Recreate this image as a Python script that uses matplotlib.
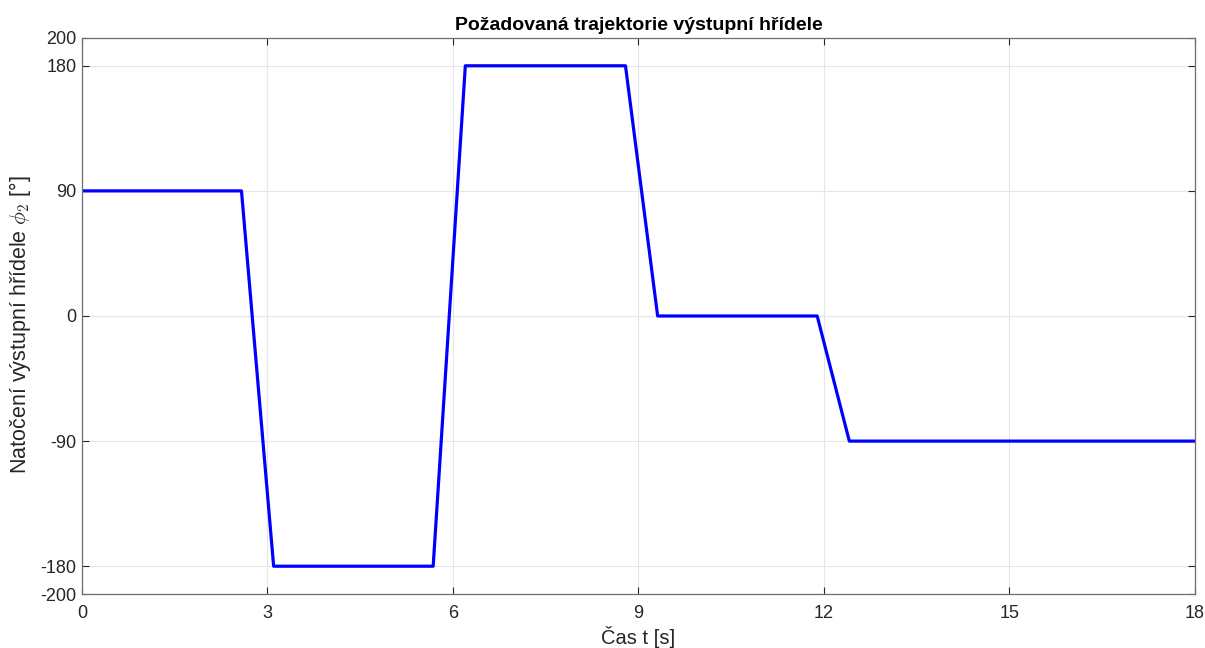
import numpy as np
import matplotlib
matplotlib.use("Agg")
import matplotlib.pyplot as plt

# Požadovaná trajektorie - body (čas [s], úhel [°])
t_points = [0, 2.58, 3.10, 5.68, 6.20, 8.79, 9.31, 11.89, 12.41, 18]
phi_points = [90, 90, -180, -180, 180, 180, 0, 0, -90, -90]

x_ticks = [0, 3, 6, 9, 12, 15, 18]
y_ticks = [-200, -180, -90, 0, 90, 180, 200]

plt.rcParams['font.family'] = ['Liberation Sans', 'DejaVu Sans']
plt.rcParams['mathtext.fontset'] = 'cm'
plt.rcParams['axes.unicode_minus'] = False

fig = plt.figure(figsize=(12.05, 6.48), dpi=100)
ax = fig.add_axes([0.068, 0.0833, 0.9237, 0.8581])

ax.plot(t_points, phi_points, color='#0000ff', linewidth=2.3)

ax.set_xlim(0, 18)
ax.set_ylim(-200, 200)
ax.set_xticks(x_ticks)
ax.set_yticks(y_ticks)
ax.grid(True, color='#e6e6e6', linewidth=0.8)
ax.set_axisbelow(True)

edge = '#262626'
for s in ax.spines.values():
    s.set_color('#6e6e6e')
    s.set_linewidth(0.9)
ax.tick_params(direction='in', top=True, right=True, length=5, width=0.8,
               colors=edge, labelsize=13, pad=4)
ax.tick_params(axis='x', pad=8)
for lbl in ax.get_xticklabels() + ax.get_yticklabels():
    lbl.set_color(edge)

ax.set_title('Požadovaná trajektorie výstupní hřídele', fontsize=14,
             fontweight='bold', color='black', pad=6)
ax.set_xlabel('Čas t [s]', fontsize=14.5, color=edge, labelpad=3)
ax.set_ylabel(r'Natočení výstupní hřídele $\phi_2$ [°]', fontsize=15.5,
              color=edge)
ax.yaxis.set_label_coords(-0.044, 0.485)

fig.savefig('out.png', dpi=100, facecolor='white')
